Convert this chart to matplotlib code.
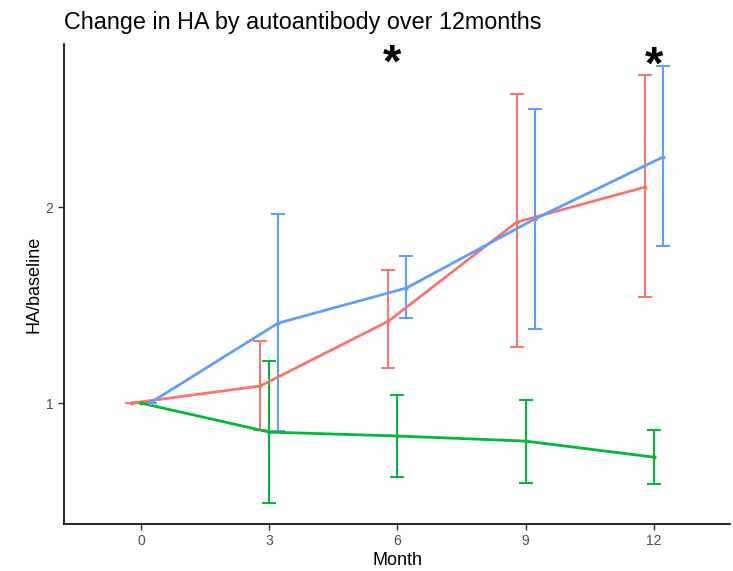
import numpy as np
import matplotlib.pyplot as plt

plt.rcParams['font.family'] = ['Liberation Sans', 'DejaVu Sans']

months = [0, 3, 6, 9, 12]

# mean HA/baseline and error bar limits per autoantibody group
red_mean = [1.0, 1.087, 1.418, 1.923, 2.102]
red_low = [1.0, 0.862, 1.179, 1.286, 1.541]
red_high = [1.0, 1.316, 1.679, 2.577, 2.673]

green_mean = [1.0, 0.852, 0.832, 0.806, 0.724]
green_low = [1.0, 0.492, 0.622, 0.592, 0.587]
green_high = [1.0, 1.214, 1.041, 1.015, 0.862]

blue_mean = [1.0, 1.408, 1.587, 1.939, 2.255]
blue_low = [1.0, 0.857, 1.434, 1.378, 1.801]
blue_high = [1.0, 1.964, 1.750, 2.500, 2.719]

star_months = [5.87, 12.0]
star_y = [2.726, 2.716]

groups = [
    (red_mean, red_low, red_high, '#F8766D', -0.21),
    (green_mean, green_low, green_high, '#00BA38', 0.0),
    (blue_mean, blue_low, blue_high, '#619CFF', 0.21),
]

fig = plt.figure(figsize=(7.33, 5.71), dpi=100)
ax = fig.add_axes([64 / 733, 1 - 524 / 571, 666 / 733, 480 / 571])

for mean, low, high, color, dodge in groups:
    x = np.array(months) + dodge
    mean = np.array(mean)
    yerr = [mean - np.array(low), np.array(high) - mean]
    ax.errorbar(x, mean, yerr=yerr, color=color, lw=2, elinewidth=1.5,
                capsize=5, capthick=1.5, marker='o', ms=2, zorder=3)

for m, y in zip(star_months, star_y):
    ax.text(m, y, '*', fontsize=34, fontweight='bold', ha='center',
            va='center', color='black')

ax.set_xlim(-1.8, 13.78)
ax.set_ylim(0.383, 2.832)
ax.set_xticks(months)
ax.set_yticks([1, 2])
ax.tick_params(colors='#333333', labelcolor='#4D4D4D', labelsize=10,
               length=4, width=1)
ax.tick_params(axis='x', pad=3)
for side in ['top', 'right']:
    ax.spines[side].set_visible(False)
for side in ['left', 'bottom']:
    ax.spines[side].set_linewidth(1.2)

ax.set_xlabel('Month', fontsize=13, labelpad=3)
ax.set_ylabel('HA/baseline', fontsize=13, labelpad=2)
fig.text(64 / 733, 1 - 22 / 571, 'Change in HA by autoantibody over 12months',
         fontsize=16.8, ha='left', va='center')

fig.savefig('out.png', dpi=100)
